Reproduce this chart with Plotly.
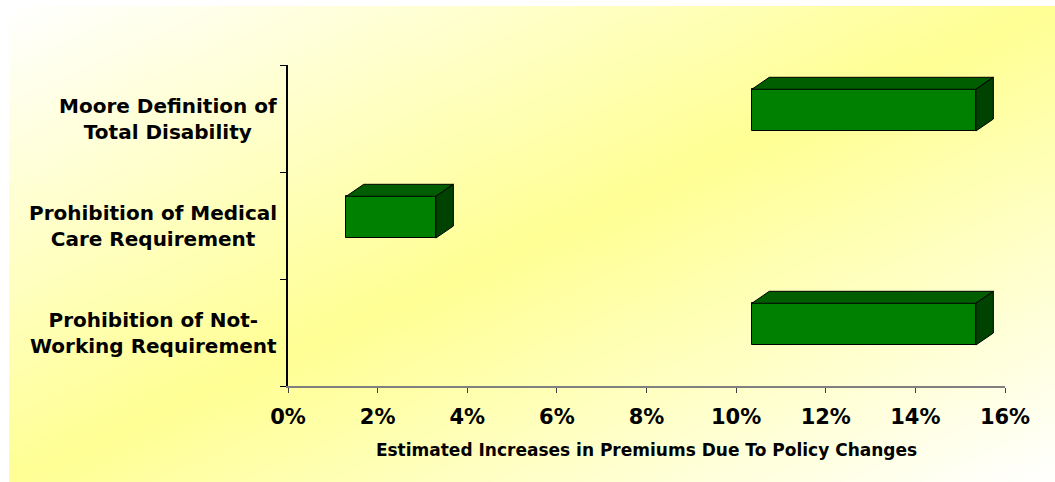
import base64
import plotly.graph_objects as go

# ---- data ----
categories = ["Prohibition of Not-<br>Working Requirement",
              "Prohibition of Medical<br>Care Requirement",
              "Moore Definition of<br>Total Disability"]
range_start = [0.1035, 0.013, 0.1035]
range_end = [0.1535, 0.033, 0.1535]
x_tick_vals = [0, 0.02, 0.04, 0.06, 0.08, 0.10, 0.12, 0.14, 0.16]
x_title = "Estimated Increases in Premiums Due To Policy Changes"

# ---- style ----
W, H = 1055, 482
ML, MR, MT, MB = 288, 50, 65, 96
FRONT = "#008000"
TOP = "#005e00"
SIDE = "#004200"
BAR_W = 0.39
BAR_OFF = -0.117
DX = 0.0039   # depth in x (fraction units)
DY = 0.112    # depth in y (category units)
FONT = "DejaVu Sans"

pos = list(range(len(categories)))
fig = go.Figure()

# front faces
fig.add_trace(go.Bar(
    y=pos, x=[e - s for s, e in zip(range_start, range_end)], base=range_start,
    orientation="h", width=BAR_W, offset=BAR_OFF,
    marker=dict(color=FRONT, line=dict(color="#000000", width=1)),
    hoverinfo="skip", showlegend=False))

# top and side faces
for p, s, e in zip(pos, range_start, range_end):
    yb = p + BAR_OFF
    yt = yb + BAR_W
    fig.add_trace(go.Scatter(
        x=[s, s + DX, e + DX, e, s], y=[yt, yt + DY, yt + DY, yt, yt],
        fill="toself", fillcolor=TOP, mode="lines",
        line=dict(color="#000000", width=1), hoverinfo="skip", showlegend=False))
    fig.add_trace(go.Scatter(
        x=[e, e + DX, e + DX, e, e], y=[yb, yb + DY, yt + DY, yt, yb],
        fill="toself", fillcolor=SIDE, mode="lines",
        line=dict(color="#000000", width=1), hoverinfo="skip", showlegend=False))

# category labels (centered multi-line)
for p, c in zip(pos, categories):
    fig.add_annotation(x=0, xref="paper", xanchor="right", xshift=-9,
                       y=p, yref="y", yanchor="middle", text=c, align="center",
                       showarrow=False,
                       font=dict(family=FONT, size=20, color="#000000", weight="bold"))

# background gradient
pw, ph = W - ML - MR, H - MT - MB
svg = ('<svg xmlns="http://www.w3.org/2000/svg" width="1046" height="476" '
       'viewBox="0 0 1046 476" preserveAspectRatio="none">'
       '<defs><linearGradient id="g" x1="0" y1="0" x2="1" y2="1">'
       '<stop offset="0" stop-color="#ffffff"/>'
       '<stop offset="0.5" stop-color="#ffff94"/>'
       '<stop offset="1" stop-color="#ffffff"/>'
       '</linearGradient></defs>'
       '<rect x="0" y="0" width="1046" height="476" fill="url(#g)"/></svg>')
src = "data:image/svg+xml;base64," + base64.b64encode(svg.encode()).decode()
fig.add_layout_image(dict(source=src, xref="paper", yref="paper",
                          x=(9 - ML) / pw, y=(H - MB - 6) / ph,
                          sizex=(W - 9) / pw, sizey=(H - 6) / ph,
                          xanchor="left", yanchor="top", sizing="stretch",
                          layer="below"))

fig.update_layout(
    width=W, height=H,
    margin=dict(l=ML, r=MR, t=MT, b=MB),
    paper_bgcolor="#ffffff", plot_bgcolor="rgba(0,0,0,0)",
    font=dict(family=FONT, color="#000000"),
    bargap=0,
    xaxis=dict(range=[0, 0.16], tickvals=x_tick_vals, tickformat=".0%",
               showgrid=False, zeroline=False,
               showline=True, linecolor="#808080", linewidth=2,
               ticks="outside", ticklen=5, tickcolor="#404040", tickwidth=1,
               tickfont=dict(family=FONT, size=21, color="#000000", weight="bold"),
               ticklabelstandoff=6,
               title=dict(text=x_title, standoff=16,
                          font=dict(family=FONT, size=17, color="#000000", weight="bold"))),
    yaxis=dict(range=[-0.5, 2.5], tickvals=[-0.5, 0.5, 1.5, 2.5],
               ticktext=["", "", "", ""],
               showgrid=False, zeroline=False,
               showline=True, linecolor="#000000", linewidth=2,
               ticks="outside", ticklen=6, tickcolor="#000000", tickwidth=1),
)

fig.write_html("out.html")
